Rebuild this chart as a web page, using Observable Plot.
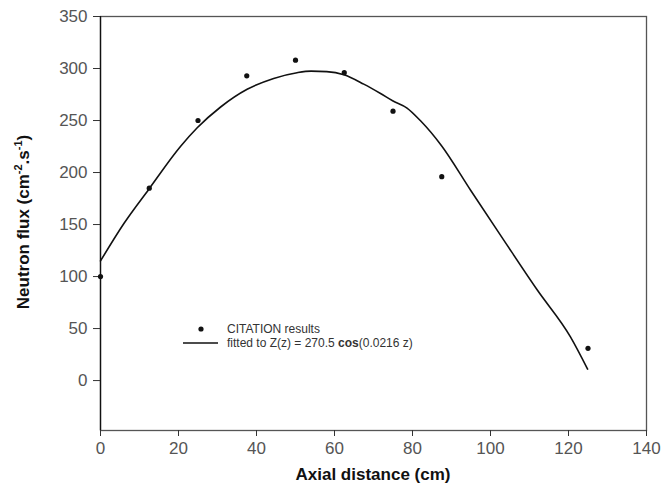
<!DOCTYPE html>
<html>
<head>
<meta charset="utf-8">
<script src="https://cdn.jsdelivr.net/npm/d3@7"></script>
<script src="https://cdn.jsdelivr.net/npm/@observablehq/plot@0.6"></script>
<style>
  html, body { margin: 0; padding: 0; background: #fff; }
  #chart svg { display: block; }
</style>
</head>
<body>
<div id="chart"></div>
<script>
// CITATION results
const zPoints = [0, 12.5, 25, 37.5, 50, 62.5, 75, 87.5, 125];
const fluxPoints = [100, 185, 250, 293, 308, 296, 259, 196, 31];

// fitted curve (as drawn)
const fitZ = [0, 6, 12.4, 20.5, 24.8, 30.8, 37.6, 44.4, 50.4, 54, 58, 62.4, 67.5, 71.8, 74.9, 78.6, 82, 87.4, 94.9, 103.4, 112, 120.5, 124.9];
const fitFlux = [115, 151, 184, 225, 243, 263, 280, 290.5, 296, 297.5, 297, 294, 285, 276, 269, 262, 250, 226, 183, 135, 87, 42, 11];

const xTicks = [0, 20, 40, 60, 80, 100, 120, 140];
const yTicks = [0, 50, 100, 150, 200, 250, 300, 350];

const xLabel = "Axial distance (cm)";
const legendDots = "CITATION results";
const legendFitPre = "fitted to Z(z) = 270.5 ";
const legendFitBold = "cos";
const legendFitPost = "(0.0216 z)";

const points = zPoints.map((z, i) => ({z, flux: fluxPoints[i]}));
const fit = fitZ.map((z, i) => ({z, flux: fitFlux[i]}));

const plot = Plot.plot({
  width: 662,
  height: 488,
  marginLeft: 100,
  marginRight: 16,
  marginTop: 16,
  marginBottom: 58,
  style: {fontFamily: "'Liberation Sans', Arial, sans-serif", fontSize: "17px", background: "#fff"},
  x: {domain: [0, 140], label: null},
  y: {domain: [-48, 350], label: null},
  marks: [
    Plot.frame({stroke: "#555", strokeWidth: 1.3}),
    Plot.ruleX([0], {stroke: "#111", strokeWidth: 1.3}),
    Plot.axisX({ticks: xTicks, tickSize: 6, tickPadding: 5, stroke: "#333", fill: "#555", fontSize: 17, label: null}),
    Plot.axisY({ticks: yTicks, tickSize: 7, tickPadding: 6, stroke: "#333", fill: "#555", fontSize: 17, label: null}),
    Plot.line(fit, {x: "z", y: "flux", stroke: "#111", strokeWidth: 1.6, curve: "monotone-x"}),
    Plot.dot(points, {x: "z", y: "flux", r: 2.6, fill: "#111", stroke: "none"})
  ]
});

const svg = d3.select(plot);

// X axis title
svg.append("text")
  .attr("x", 373).attr("y", 480)
  .attr("text-anchor", "middle")
  .attr("font-family", "'Liberation Sans', Arial, sans-serif")
  .attr("font-weight", "bold").attr("font-size", 17)
  .attr("fill", "#111")
  .text(xLabel);

// Y axis title with superscripts
const yt = svg.append("text")
  .attr("transform", "translate(29,222) rotate(-90)")
  .attr("text-anchor", "middle")
  .attr("font-family", "'Liberation Sans', Arial, sans-serif")
  .attr("font-weight", "bold").attr("font-size", 17)
  .attr("fill", "#111");
yt.append("tspan").text("Neutron flux (cm");
yt.append("tspan").attr("font-size", 11).attr("dy", -7).text("-2");
yt.append("tspan").attr("dy", 7).text(".s");
yt.append("tspan").attr("font-size", 11).attr("dy", -7).text("-1");
yt.append("tspan").attr("dy", 7).text(")");

// Legend
const lg = svg.append("g")
  .attr("font-family", "'Liberation Sans', Arial, sans-serif")
  .attr("font-size", 12)
  .attr("text-anchor", "start")
  .attr("fill", "#333");
lg.append("circle").attr("cx", 201).attr("cy", 329).attr("r", 2.6).attr("fill", "#111");
lg.append("text").attr("x", 227).attr("y", 333).attr("text-anchor", "start").text(legendDots);
lg.append("line").attr("x1", 183).attr("x2", 218).attr("y1", 343).attr("y2", 343)
  .attr("stroke", "#111").attr("stroke-width", 1.6);
const lt = lg.append("text").attr("x", 227).attr("y", 347).attr("text-anchor", "start");
lt.append("tspan").text(legendFitPre);
lt.append("tspan").attr("font-weight", "bold").text(legendFitBold);
lt.append("tspan").text(legendFitPost);

document.getElementById("chart").appendChild(plot);
</script>
</body>
</html>
